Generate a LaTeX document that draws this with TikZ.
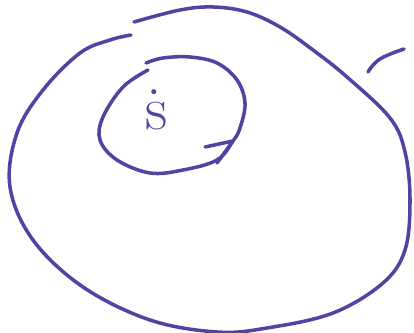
\documentclass[tikz,border=0pt]{standalone}
\usepackage{amsmath}
\usepackage{tikz}
\usetikzlibrary{calc}

\definecolor{pen}{RGB}{84,66,162}

\begin{document}
\begin{tikzpicture}[
    x=0.025cm, y=-0.025cm,
    stroke/.style={draw=pen, line width=2.5pt, line cap=round, line join=round},
    label/.style={text=pen, font=\fontsize{44}{44}\selectfont, inner sep=0pt}
]
\useasboundingbox (0,0) rectangle (414,333);

% --- Outer loop, open at the top left ---
\draw[stroke] plot[smooth, tension=0.6] coordinates {
    (131,35) (110,40) (80,53) (43,90) (17,133) (10,187) (33,240) (83,287)
    (150,320) (217,332) (267,328) (333,313) (383,283) (405,250) (410,200)
    (405,152) (390,118) (347,77) (313,50) (280,27) (247,12)
    (213,7) (180,10) (134,22)};

% --- Short stroke outside, top right ---
\draw[stroke] plot[smooth, tension=0.7] coordinates {(368,72) (380,59) (404,49)};

% --- Inner loop around the label ---
\coordinate (tip) at (233,141);
\draw[stroke] plot[smooth, tension=0.6] coordinates {
    (148,70) (123,87) (103,117) (100,140) (117,160) (150,173) (183,170)
    (217,160) (tip) (240,128) (245,103) (237,80) (217,63) (190,57)
    (163,58) (146,63)};

% --- Arrowhead on the inner loop ---
\coordinate (barbA) at (205,147);
\coordinate (barbB) at (217,163);
\draw[stroke] (barbA) -- (tip) -- (barbB);

% --- Label ---
\node[label] (sdot) at (157,110) {\.{s}};

\end{tikzpicture}
\end{document}
